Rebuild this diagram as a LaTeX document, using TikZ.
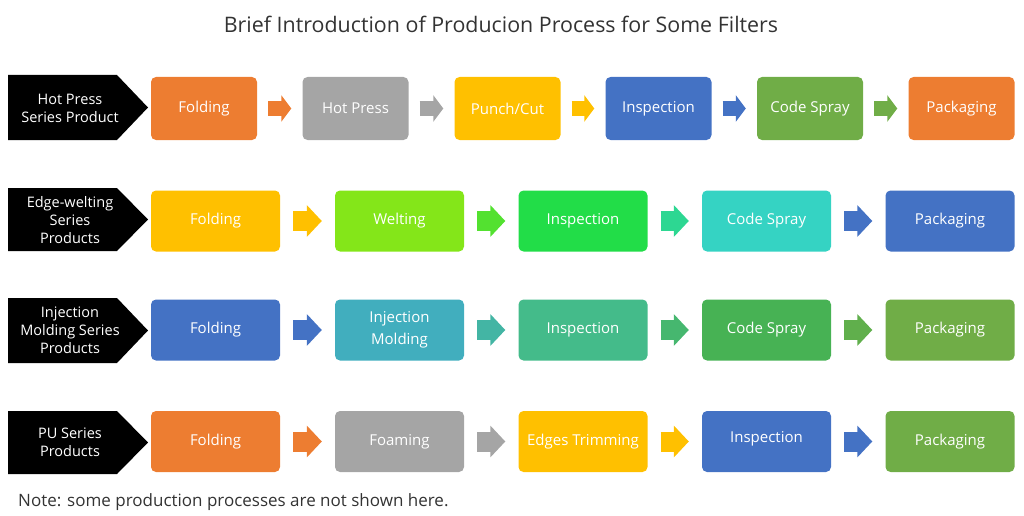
\documentclass[tikz,border=0pt]{standalone}
\usepackage{fontspec}
\setmainfont{Open Sans}
\usetikzlibrary{arrows.meta}
\definecolor{cOrange}{HTML}{ED7D31}
\definecolor{cGrey}{HTML}{A5A5A5}
\definecolor{cYellow}{HTML}{FFC000}
\definecolor{cBlue}{HTML}{4472C4}
\definecolor{cGreen}{HTML}{70AD47}
\definecolor{cLime}{HTML}{84E619}
\definecolor{cBright}{HTML}{22DD48}
\definecolor{cTeal}{HTML}{35D3C3}
\definecolor{cCyan}{HTML}{41AEBE}
\definecolor{cSea}{HTML}{44BB8A}
\definecolor{cMid}{HTML}{47B254}
\definecolor{cText}{HTML}{333333}
\tikzset{
  boxA/.style={rounded corners=5pt, text=white, font=\fontsize{15}{18}\selectfont,
    minimum width=106pt, minimum height=63pt, inner sep=0pt, align=center},
  boxB/.style={rounded corners=5pt, text=white, font=\fontsize{15}{22}\selectfont,
    minimum width=129pt, minimum height=61pt, inner sep=0pt, align=center},
  chev/.style={fill=black},
  chevtext/.style={text=white, font=\fontsize{14.5}{18}\selectfont, align=center, inner sep=0pt},
  arrA/.style={line width=15pt, -{Triangle[length=10pt,width=26pt]}, shorten <=11pt, shorten >=11pt},
  arrB/.style={line width=20pt, -{Triangle[length=15pt,width=31pt]}, shorten <=13pt, shorten >=13pt},
}
\begin{document}
\begin{tikzpicture}[x=1pt,y=-1pt]
\useasboundingbox (0,0) rectangle (1024,516);
\node[text=cText, font=\fontsize{21.4}{25}\selectfont] (title) at (501,24) {Brief Introduction of Producion Process for Some Filters};
\node[text=cText, font=\fontsize{17}{20}\selectfont, anchor=west, inner sep=0pt] (note) at (18,502) {Note: some production processes are not shown here.};
% chevrons
\fill[chev] (8,75) -- (117,75) -- (148,107.5) -- (117,140) -- (8,140) -- cycle;
\node[chevtext] (c1) at (70,108) {Hot Press\\Series Product};
\fill[chev] (8,188) -- (117,188) -- (148,219.5) -- (117,251) -- (8,251) -- cycle;
\node[chevtext] (c2) at (70,220) {Edge-welting\\Series\\Products};
\fill[chev] (8,298) -- (117,298) -- (148,330.5) -- (117,363) -- (8,363) -- cycle;
\node[chevtext] (c3) at (70,330) {Injection\\Molding Series\\Products};
\fill[chev] (8,411) -- (117,411) -- (148,442.5) -- (117,474) -- (8,474) -- cycle;
\node[chevtext] (c4) at (70,442) {PU Series\\Products};
% row 1
\node[boxA, fill=cOrange] (a1) at (204,108.5) {Folding};
\node[boxA, fill=cGrey] (a2) at (355.5,108.5) {Hot Press};
\node[boxA, fill=cYellow] (a3) at (507.5,108.5) {Punch/Cut};
\node[boxA, fill=cBlue] (a4) at (658.5,108.5) {Inspection};
\node[boxA, fill=cGreen] (a5) at (810,108.5) {Code Spray};
\node[boxA, fill=cOrange] (a6) at (961.5,108.5) {Packaging};
\draw[arrA, cOrange] (a1.east) -- (a2.west);
\draw[arrA, cGrey] (a2.east) -- (a3.west);
\draw[arrA, cYellow] (a3.east) -- (a4.west);
\draw[arrA, cBlue] (a4.east) -- (a5.west);
\draw[arrA, cGreen] (a5.east) -- (a6.west);
% row 2
\node[boxB, fill=cYellow] (b1) at (215.5,221) {Folding};
\node[boxB, fill=cLime] (b2) at (399.5,221) {Welting};
\node[boxB, fill=cBright] (b3) at (583,221) {Inspection};
\node[boxB, fill=cTeal] (b4) at (766.5,221) {Code Spray};
\node[boxB, fill=cBlue] (b5) at (950,221) {Packaging};
\draw[arrB, cYellow] (b1.east) -- (b2.west);
\draw[arrB, cLime!50!cBright] (b2.east) -- (b3.west);
\draw[arrB, cBright!40!cTeal] (b3.east) -- (b4.west);
\draw[arrB, cBlue] (b4.east) -- (b5.west);
% row 3
\node[boxB, fill=cBlue] (d1) at (215.5,330) {Folding};
\node[boxB, fill=cCyan] (d2) at (399.5,330) {Injection\\Molding};
\node[boxB, fill=cSea] (d3) at (583,330) {Inspection};
\node[boxB, fill=cMid] (d4) at (766.5,330) {Code Spray};
\node[boxB, fill=cGreen] (d5) at (950,330) {Packaging};
\draw[arrB, cBlue] (d1.east) -- (d2.west);
\draw[arrB, cCyan!50!cSea] (d2.east) -- (d3.west);
\draw[arrB, cSea!50!cMid] (d3.east) -- (d4.west);
\draw[arrB, cMid!40!cGreen] (d4.east) -- (d5.west);
% row 4
\node[boxB, fill=cOrange] (e1) at (215.5,441.5) {Folding};
\node[boxB, fill=cGrey] (e2) at (399.5,441.5) {Foaming};
\node[boxB, fill=cYellow] (e3) at (583,441.5) {Edges Trimming};
\node[boxB, fill=cBlue, text depth=10pt] (e4) at (766.5,441.5) {Inspection};
\node[boxB, fill=cGreen] (e5) at (950,441.5) {Packaging};
\draw[arrB, cOrange] (e1.east) -- (e2.west);
\draw[arrB, cGrey] (e2.east) -- (e3.west);
\draw[arrB, cYellow] (e3.east) -- (e4.west);
\draw[arrB, cBlue] (e4.east) -- (e5.west);
\end{tikzpicture}
\end{document}
